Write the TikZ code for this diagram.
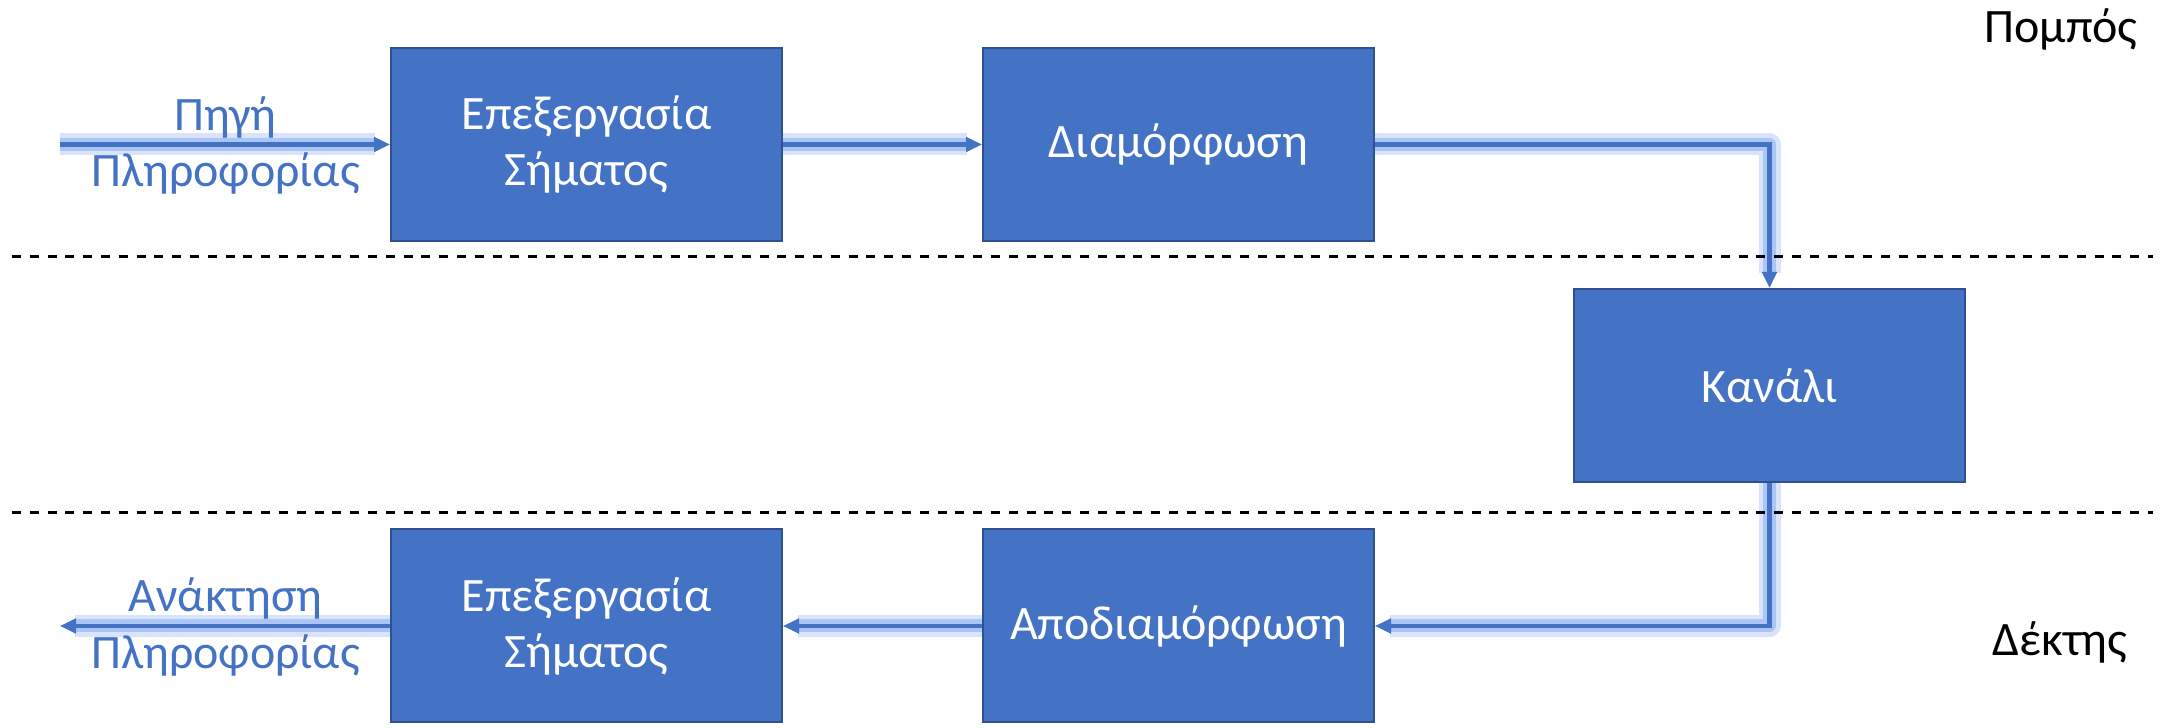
\documentclass[tikz,border=0pt]{standalone}
\usepackage{fontspec}
\setmainfont{Carlito}
\usetikzlibrary{arrows.meta}
\definecolor{boxblue}{HTML}{4472C4}
\definecolor{edgeblue}{HTML}{2F528F}
\definecolor{glowblue}{HTML}{7FA6F2}
\begin{document}
\begin{tikzpicture}[x=50pt,y=50pt]
    \tikzset{>={Triangle[length=8pt,width=7pt]}}
    \tikzset{block/.style={draw=edgeblue, line width=1pt, fill=boxblue, text=white,
        minimum width=195.5pt, minimum height=96.5pt, inner sep=0pt, align=center,
        font=\fontsize{24}{28}\selectfont}}
    \tikzset{link/.style={->, draw=boxblue, line width=2.2pt,
        preaction={draw=glowblue!30, line width=11pt, line join=round},
        preaction={draw=glowblue!65, line width=6.5pt, line join=round}}}
    \tikzset{tag/.style={anchor=base, align=center, font=\fontsize{24}{28}\selectfont}}
    \tikzset{sep/.style={black, line width=1.5pt, dash pattern=on 4.5pt off 4.4pt}}
    \useasboundingbox (0,0) rectangle (21.64,7.28);
    % blocks
    \node[block] (proc1) at (5.865,5.835) {Επεξεργασία\\Σήματος};
    \node[block] (mod) at (11.785,5.835) {Διαμόρφωση};
    \node[block] (chan) at (17.695,3.425) {Κανάλι};
    \node[block] (demod) at (11.785,1.02) {Αποδιαμόρφωση};
    \node[block] (proc2) at (5.865,1.02) {Επεξεργασία\\Σήματος};
    \coordinate (src) at (0.60,5.835);
    \coordinate (dst) at (0.60,1.02);
    % signal path
    \draw[link] (src) -- (proc1);
    \draw[link] (proc1) -- (mod);
    \draw[link] (mod) -| (chan);
    \draw[link] (chan) |- (demod);
    \draw[link] (demod) -- (proc2);
    \draw[link] (proc2) -- (dst);
    % labels
    \node[tag, text=boxblue] (srcA) at (2.255,5.975) {Πηγή};
    \node[tag, text=boxblue] (srcB) at (2.255,5.41) {Πληροφορίας};
    \node[tag, text=boxblue] (dstA) at (2.255,1.16) {Ανάκτηση};
    \node[tag, text=boxblue] (dstB) at (2.255,0.595) {Πληροφορίας};
    \node[tag] (tx) at (20.61,6.85) {Πομπός};
    \node[tag] (rx) at (20.60,0.72) {Δέκτης};
    % \draw (0,0) rectangle (21.64,7.28);
    \draw[sep] (0.12,4.71) -- (21.53,4.71);
    \draw[sep] (0.12,2.15) -- (21.53,2.15);
\end{tikzpicture}
\end{document}
